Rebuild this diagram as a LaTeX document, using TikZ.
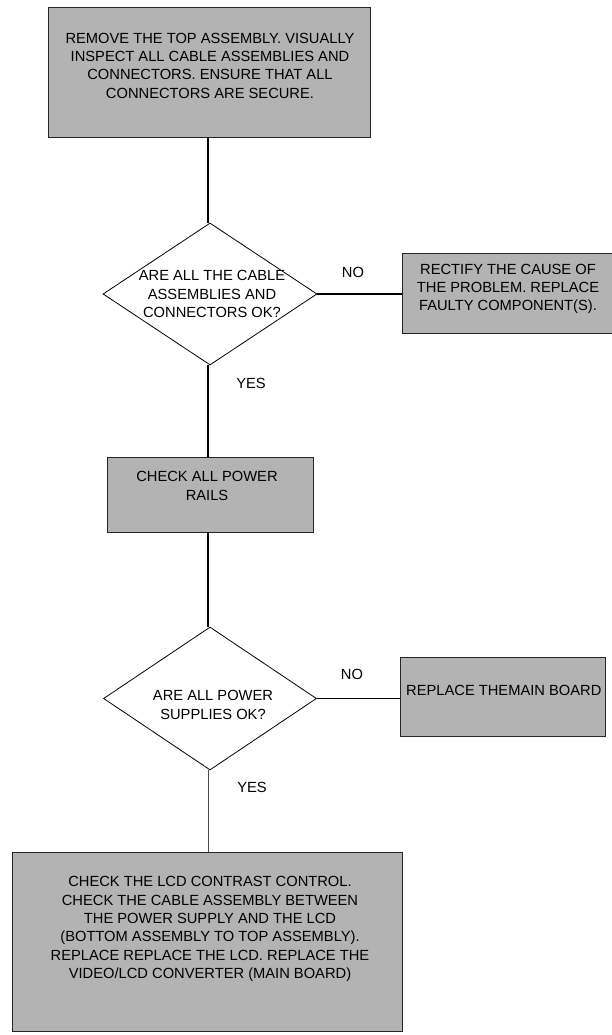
\documentclass[tikz,border=0pt]{standalone}
\usepackage{fontspec}
\setmainfont{Liberation Sans}
\usetikzlibrary{shapes.geometric}
\definecolor{boxgray}{RGB}{179,179,179}
\begin{document}
\begin{tikzpicture}[x=1pt,y=-1pt,
  stepbox/.style={draw=black!85,line width=0.8pt,fill=boxgray,rectangle,inner sep=0pt},
  decision/.style={draw=black,line width=0.8pt,diamond,inner sep=0pt,minimum width=214pt,minimum height=142pt},
  txt/.style={align=center,inner sep=0pt,font=\fontsize{14.7}{18.3}\selectfont},
  conn/.style={draw=black,line width=1.4pt},
  thinconn/.style={draw=black!70,line width=0.7pt}]
\useasboundingbox (0,0) rectangle (611,1035);
% boxes
\node[stepbox,minimum width=322pt,minimum height=130pt] (b1) at (209,72) {};
\node[txt] (t1) at (210,65.5) {REMOVE THE TOP ASSEMBLY. VISUALLY\\INSPECT ALL CABLE ASSEMBLIES AND\\CONNECTORS. ENSURE THAT ALL\\CONNECTORS ARE SECURE.};
\node[decision] (d1) at (210,294) {};
\node[txt] (t2) at (212,294) {ARE ALL THE CABLE\\ASSEMBLIES AND\\CONNECTORS OK?};
\node[stepbox,minimum width=210pt,minimum height=80pt] (b2) at (507,293) {};
\node[txt] (t3) at (508,289) {RECTIFY THE CAUSE OF\\THE PROBLEM. REPLACE\\FAULTY COMPONENT(S).};
\node[stepbox,minimum width=206pt,minimum height=75pt] (b3) at (210,494.5) {};
\node[txt] (t4) at (207,486) {CHECK ALL POWER\\RAILS};
\node[decision,minimum width=213pt,minimum height=143pt] (d2) at (210,698.5) {};
\node[txt] (t5) at (213,705) {ARE ALL POWER\\SUPPLIES OK?};
\node[stepbox,minimum width=205pt,minimum height=79pt] (b4) at (502.5,696.5) {};
\node[txt,anchor=west] (t6) at (406,690) {REPLACE THEMAIN BOARD};
\node[stepbox,minimum width=390pt,minimum height=179pt] (b5) at (207,941.5) {};
\node[txt] (t7) at (210,929) {CHECK THE LCD CONTRAST CONTROL.\\CHECK THE CABLE ASSEMBLY BETWEEN\\THE POWER SUPPLY AND THE LCD\\(BOTTOM ASSEMBLY TO TOP ASSEMBLY).\\REPLACE REPLACE THE LCD. REPLACE THE\\VIDEO/LCD CONVERTER (MAIN BOARD)};
% labels
\node[txt] (no1) at (353,272) {NO};
\node[txt] (yes1) at (251,383) {YES};
\node[txt] (no2) at (352,674) {NO};
\node[txt] (yes2) at (252,787) {YES};
% connectors
\coordinate (c1) at (208,137);
\coordinate (c2) at (208,223);
\draw[conn] (c1) -- (c2);
\draw[conn] (d1.east) -- (b2.west |- d1.east);
\coordinate (c3) at (208,365);
\coordinate (c4) at (208,457);
\draw[conn] (c3) -- (c4);
\coordinate (c5) at (208,532);
\coordinate (c6) at (208,627);
\draw[conn] (c5) -- (c6);
\draw[conn] (d2.east) -- (b4.west |- d2.east);
\coordinate (c7) at (208,770);
\coordinate (c8) at (208,852);
\draw[thinconn] (c7) -- (c8);
\end{tikzpicture}
\end{document}
